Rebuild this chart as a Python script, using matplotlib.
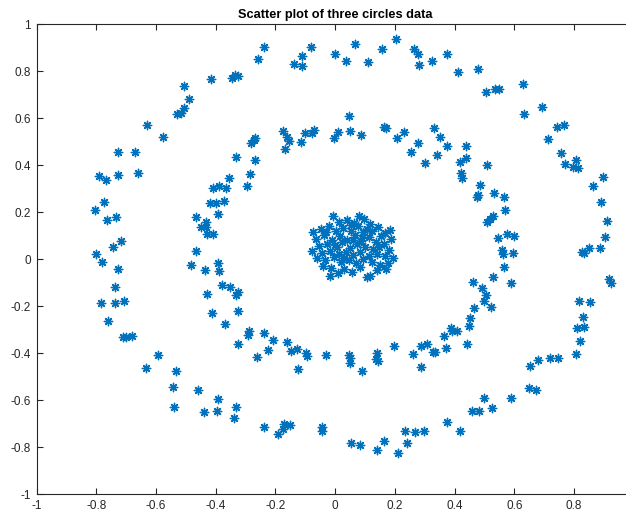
import matplotlib
matplotlib.use("Agg")
import matplotlib.pyplot as plt
import numpy as np

# Outer ring samples (x, y)
outer = [
    (-0.631, 0.570), (-0.577, 0.520), (-0.530, 0.615), (-0.515, 0.620), (-0.508, 0.644),
    (-0.489, 0.680), (-0.508, 0.736), (-0.415, 0.765), (-0.345, 0.772), (-0.335, 0.785),
    (-0.325, 0.778), (-0.257, 0.850), (-0.238, 0.901), (-0.137, 0.830), (-0.111, 0.864),
    (-0.111, 0.823), (-0.080, 0.903), (-0.002, 0.872), (0.037, 0.843), (0.067, 0.913),
    (0.110, 0.837), (0.158, 0.892), (0.204, 0.937), (0.264, 0.895), (0.277, 0.872),
    (0.280, 0.827), (0.324, 0.843), (0.374, 0.872), (0.411, 0.796), (0.478, 0.807),
    (0.505, 0.712), (0.536, 0.722), (0.549, 0.722), (0.628, 0.745), (0.692, 0.646),
    (0.633, 0.617), (0.743, 0.560), (0.765, 0.569), (0.713, 0.511),
    (0.756, 0.452), (0.771, 0.403), (0.806, 0.421), (0.796, 0.393), (0.813, 0.386),
    (0.898, 0.348), (0.865, 0.311), (0.890, 0.244), (0.912, 0.162), (0.905, 0.095),
    (0.886, 0.048), (0.851, 0.045), (0.832, 0.024), (0.826, 0.028), (0.916, -0.086),
    (0.923, -0.103), (0.818, -0.177), (0.853, -0.184), (0.830, -0.245), (0.810, -0.295),
    (0.832, -0.288), (0.821, -0.349), (0.806, -0.404), (0.653, -0.455), (0.681, -0.430),
    (0.720, -0.423), (0.748, -0.423),
    (0.648, -0.550), (0.673, -0.559), (0.590, -0.593), (0.525, -0.633), (0.498, -0.593),
    (0.458, -0.646), (0.482, -0.647), (0.417, -0.732), (0.374, -0.695), (0.296, -0.732),
    (0.268, -0.738), (0.240, -0.782), (0.235, -0.731), (0.210, -0.824), (0.162, -0.773),
    (0.140, -0.813), (0.084, -0.791), (0.054, -0.784), (-0.043, -0.732), (-0.045, -0.713),
    (-0.151, -0.706), (-0.170, -0.702), (-0.175, -0.723), (-0.192, -0.745), (-0.238, -0.716),
    (-0.333, -0.628), (-0.338, -0.678), (-0.396, -0.647), (-0.439, -0.652), (-0.394, -0.597),
    (-0.460, -0.557), (-0.539, -0.628), (-0.545, -0.546), (-0.534, -0.477), (-0.634, -0.465),
    (-0.592, -0.409),
    (-0.681, -0.326), (-0.701, -0.330), (-0.711, -0.330), (-0.760, -0.264), (-0.706, -0.177),
    (-0.737, -0.189), (-0.785, -0.189), (-0.738, -0.118), (-0.726, -0.043), (-0.780, -0.014),
    (-0.801, 0.021), (-0.743, 0.052), (-0.718, 0.077), (-0.735, 0.180), (-0.763, 0.167),
    (-0.803, 0.210), (-0.773, 0.244), (-0.662, 0.367), (-0.728, 0.357), (-0.767, 0.335),
    (-0.791, 0.354), (-0.670, 0.457), (-0.726, 0.457),
]

# Middle ring samples (x, y)
middle = [
    (0.046, 0.610), (-0.175, 0.546), (-0.160, 0.520), (-0.270, 0.514), (-0.100, 0.535),
    (-0.078, 0.537), (-0.071, 0.549), (-0.003, 0.516), (0.008, 0.542), (0.050, 0.546),
    (0.087, 0.526), (0.162, 0.563), (0.170, 0.559), (0.207, 0.516), (0.231, 0.539),
    (0.332, 0.559), (0.352, 0.520),
    (-0.281, 0.492), (-0.271, 0.506), (-0.267, 0.420), (-0.285, 0.360), (-0.296, 0.312),
    (-0.156, 0.502), (-0.168, 0.467), (-0.115, 0.497), (0.277, 0.492), (0.254, 0.457),
    (0.302, 0.407), (0.341, 0.443),
    (0.374, 0.481), (0.438, 0.481), (0.419, 0.414), (0.438, 0.431), (0.508, 0.400),
    (0.422, 0.367), (0.424, 0.343), (0.486, 0.315), (0.480, 0.272), (0.475, 0.265),
    (0.533, 0.280), (0.567, 0.265), (0.568, 0.209), (0.528, 0.183), (0.519, 0.170),
    (0.510, 0.159), (0.545, 0.088), (0.576, 0.105), (0.600, 0.098), (0.558, 0.038),
    (0.561, 0.020), (0.597, 0.024),
    (0.564, -0.033), (0.528, -0.078), (0.589, -0.103), (0.463, -0.099), (0.491, -0.122),
    (0.506, -0.153), (0.499, -0.177), (0.522, -0.203), (0.466, -0.210), (0.450, -0.252),
    (0.449, -0.284), (0.389, -0.295), (0.408, -0.306), (0.391, -0.306), (0.363, -0.328),
    (0.443, -0.362), (0.372, -0.380), (0.335, -0.397),
    (0.326, -0.394), (0.307, -0.363), (0.287, -0.370), (0.262, -0.406), (0.287, -0.461),
    (0.198, -0.370), (0.140, -0.401), (0.136, -0.426), (0.145, -0.434), (0.089, -0.475),
    (0.045, -0.409), (0.048, -0.423), (0.051, -0.441), (-0.031, -0.409), (-0.097, -0.401),
    (-0.095, -0.411), (-0.126, -0.468), (-0.128, -0.383), (-0.148, -0.390), (-0.160, -0.355),
    (-0.209, -0.345), (-0.225, -0.387), (-0.240, -0.314), (-0.262, -0.416), (-0.290, -0.306),
    (-0.292, -0.323),
    (-0.327, -0.362), (-0.327, -0.221), (-0.368, -0.277), (-0.413, -0.228), (-0.333, -0.153),
    (-0.327, -0.142), (-0.378, -0.111), (-0.352, -0.121), (-0.430, -0.149), (-0.394, -0.018),
    (-0.388, -0.050), (-0.436, -0.047), (-0.482, -0.026), (-0.466, 0.035), (-0.430, 0.106),
    (-0.411, 0.106), (-0.450, 0.136), (-0.432, 0.136), (-0.433, 0.156), (-0.466, 0.177),
    (-0.392, 0.191), (-0.419, 0.237), (-0.399, 0.237), (-0.371, 0.246), (-0.409, 0.301),
    (-0.390, 0.311), (-0.365, 0.301), (-0.355, 0.343), (-0.332, 0.433),
]

# Inner cluster samples (x, y)
inner = [
    (-0.009, 0.183), (0.080, 0.183), (0.012, 0.158), (0.038, 0.166), (0.062, 0.152),
    (0.098, 0.171), (0.115, 0.148), (0.143, 0.138), (0.182, 0.123), (0.168, 0.112),
    (-0.073, 0.116), (-0.048, 0.128), (-0.022, 0.141), (0.004, 0.118), (0.027, 0.133),
    (0.053, 0.121), (0.077, 0.139), (0.094, 0.113), (0.124, 0.121), (0.152, 0.099),
    (0.186, 0.087), (-0.064, 0.086), (-0.037, 0.101), (-0.012, 0.079), (0.016, 0.097),
    (0.041, 0.082), (0.066, 0.104), (0.087, 0.076), (0.113, 0.094), (0.137, 0.072),
    (0.163, 0.066), (-0.055, 0.057), (-0.028, 0.063), (0.006, 0.052), (0.024, 0.071),
    (0.048, 0.047), (0.072, 0.062), (0.101, 0.049), (0.126, 0.043), (0.148, 0.052),
    (0.179, 0.038), (-0.078, 0.034), (-0.044, 0.027), (-0.017, 0.036), (0.013, 0.023),
    (0.036, 0.031), (0.059, 0.018), (0.084, 0.029), (0.112, 0.014), (0.139, 0.022),
    (0.166, 0.011), (0.195, 0.003), (-0.061, 0.004), (-0.033, -0.006), (-0.004, 0.009),
    (0.021, -0.012), (0.046, -0.003), (0.071, -0.017), (0.094, 0.002), (0.122, -0.014),
    (0.151, -0.024), (0.178, -0.016), (-0.041, -0.031), (-0.014, -0.038), (0.031, -0.041),
    (0.056, -0.057), (0.083, -0.036), (0.106, -0.075), (0.117, -0.071), (0.140, -0.046),
    (0.170, -0.043), (-0.017, -0.071), (0.008, -0.058), (0.052, 0.145), (-0.030, 0.115),
    (0.108, 0.128), (0.000, 0.060), (0.090, 0.090), (0.030, 0.005), (0.060, 0.080),
]

xticks = [-1, -0.8, -0.6, -0.4, -0.2, 0, 0.2, 0.4, 0.6, 0.8]
xtick_labels = ["-1", "-0.8", "-0.6", "-0.4", "-0.2", "0", "0.2", "0.4", "0.6", "0.8"]
yticks = [-1, -0.8, -0.6, -0.4, -0.2, 0, 0.2, 0.4, 0.6, 0.8, 1]
ytick_labels = ["-1", "-0.8", "-0.6", "-0.4", "-0.2", "0", "0.2", "0.4", "0.6", "0.8", "1"]

plt.rcParams["font.family"] = ["Liberation Sans", "DejaVu Sans"]

fig = plt.figure(figsize=(6.26, 5.13), dpi=100)
ax = fig.add_axes([0.0586, 0.037, 0.9537, 0.9162])

pts = np.array(outer + middle + inner)
ax.scatter(pts[:, 0], pts[:, 1], marker=(8, 2, 0), s=36, linewidths=1.0,
           color="#0072BD")

ax.set_xlim(-1, 1)
ax.set_ylim(-1, 1)
ax.set_xticks(xticks)
ax.set_xticklabels(xtick_labels)
ax.set_yticks(yticks)
ax.set_yticklabels(ytick_labels)

edge = "#262626"
for s in ax.spines.values():
    s.set_color(edge)
    s.set_linewidth(0.8)
ax.tick_params(direction="in", length=4, width=0.8, colors=edge, labelsize=8.5,
               top=True, right=True, pad=4)

ax.set_title("Scatter plot of three circles data", fontsize=9.2, fontweight="bold", pad=4)

fig.savefig("out.png", dpi=100)
